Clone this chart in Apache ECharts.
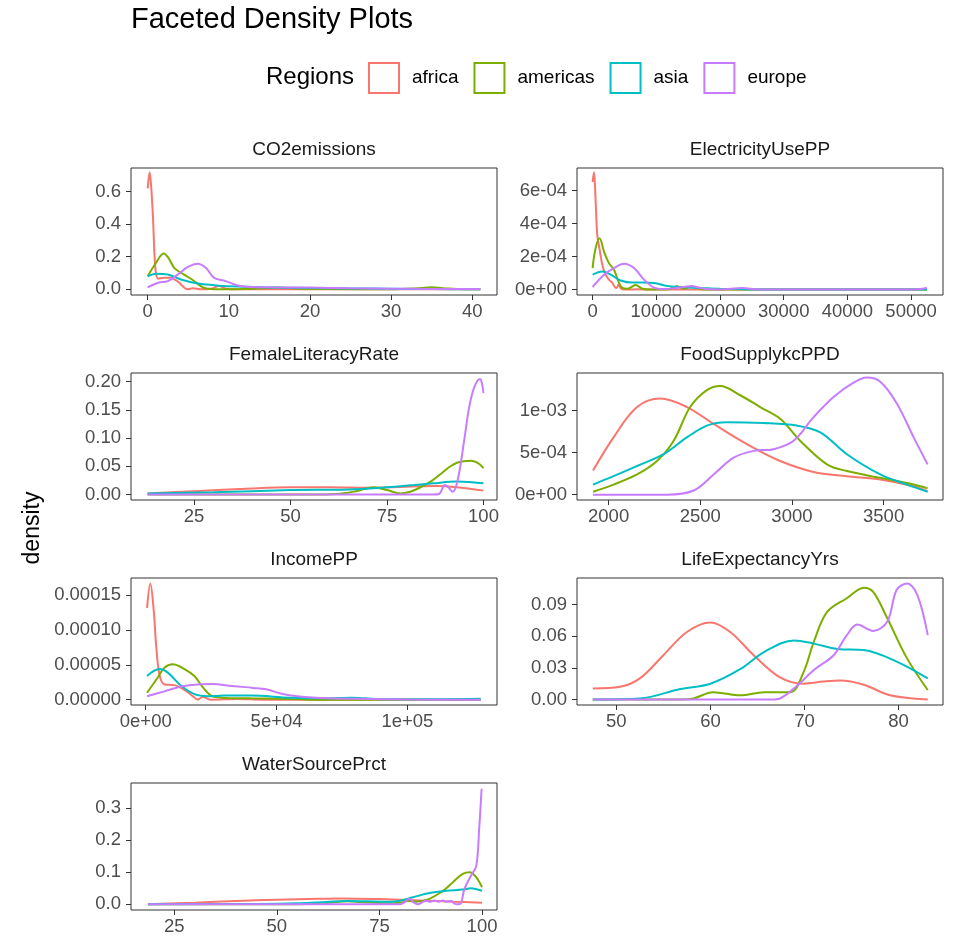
<!DOCTYPE html>
<html><head><meta charset="utf-8">
<script src="https://cdn.jsdelivr.net/npm/echarts@6/dist/echarts.min.js"></script>
<style>html,body{margin:0;padding:0;background:#fff}#c{width:956px;height:939px}</style>
</head><body><div id="c"></div>
<script>
// ---------------- data ----------------
const regions = ['africa', 'americas', 'asia', 'europe'];
const panelNames = ['CO2emissions', 'ElectricityUsePP', 'FemaleLiteracyRate', 'FoodSupplykcPPD', 'IncomePP', 'LifeExpectancyYrs', 'WaterSourcePrct'];

const co2Africa = [[0,0.62],[0.25,0.72],[0.45,0.62],[0.66,0.44],[0.95,0.13],[1.3,0.065],[2.1,0.07],[2.8,0.07],[3.3,0.06],[3.9,0.04],[4.4,0.015],[4.9,0.0],[5.6,0.006],[6.5,0.0],[7.8,0.003],[8.8,0.02],[9.7,0.003],[11,0.0],[20,0.0],[30,0.0],[41,0.0]];
const co2Americas = [[0,0.08],[1.0,0.16],[1.97,0.22],[2.6,0.19],[3.3,0.13],[4.5,0.09],[5.6,0.055],[6.8,0.012],[7.8,0.002],[10,0.0],[13,0.003],[16,0.01],[18,0.004],[22,0.001],[30,0.0],[33,0.005],[35,0.012],[37,0.004],[39,0.0],[41,0.0]];
const co2Asia = [[0,0.08],[1.07,0.095],[2.5,0.09],[4.1,0.06],[6.2,0.035],[8.2,0.025],[10.2,0.018],[14,0.012],[20,0.008],[25,0.005],[30,0.003],[35,0.001],[41,0.0]];
const co2Europe = [[0,0.012],[1.3,0.04],[2.5,0.05],[3.7,0.09],[4.96,0.137],[6.2,0.157],[7.2,0.13],[8.2,0.07],[9.6,0.05],[11,0.025],[12.2,0.015],[15,0.012],[20,0.01],[25,0.006],[30,0.003],[35,0.002],[41,0.001]];

const elecAfrica = [[0,6.5e-4],[220,7.1e-4],[470,5.4e-4],[740,3.3e-4],[1160,2.3e-4],[1520,1.5e-4],[2040,0.9e-4],[2560,0.6e-4],[3090,0.4e-4],[3500,0.15e-4],[3770,0.1e-4],[4100,0.3e-4],[4500,0.05e-4],[5500,0],[7000,0.02e-4],[10000,0],[52500,0]];
const elecAmericas = [[0,1.3e-4],[470,2.5e-4],[1100,3.1e-4],[1790,2.3e-4],[2570,1.6e-4],[3360,1.2e-4],[4140,0.4e-4],[4670,0.1e-4],[5500,0.05e-4],[6750,0.27e-4],[7800,0.05e-4],[9000,0],[12000,0.02e-4],[13200,0.2e-4],[14300,0.05e-4],[15600,0.2e-4],[17000,0.02e-4],[20000,0],[52500,0]];
const elecAsia = [[0,0.9e-4],[1520,1.1e-4],[2830,0.9e-4],[4400,0.55e-4],[6230,0.42e-4],[8000,0.42e-4],[9630,0.4e-4],[11700,0.22e-4],[14000,0.15e-4],[17000,0.1e-4],[20000,0.05e-4],[25000,0.01e-4],[30000,0],[52500,0]];
const elecEurope = [[0,0.15e-4],[1790,0.9e-4],[3360,1.3e-4],[4930,1.56e-4],[6500,1.3e-4],[8070,0.6e-4],[9630,0.12e-4],[11200,0.03e-4],[13000,0.08e-4],[15500,0.2e-4],[17500,0.05e-4],[20000,0.01e-4],[23500,0.1e-4],[26000,0],[50000,0],[52500,0.1e-4]];

const litAfrica = [[13,0.002],[25,0.006],[40,0.011],[50,0.013],[60,0.013],[70,0.012],[80,0.014],[88,0.015],[93,0.013],[100,0.007]];
const litAmericas = [[13,0],[55,0],[62,0.001],[67,0.006],[71.6,0.013],[75,0.008],[78.5,0.002],[81,0.005],[83.7,0.013],[86.5,0.024],[89,0.037],[91,0.048],[93.3,0.057],[96.7,0.06],[98.5,0.056],[100,0.047]];
const litAsia = [[13,0.002],[30,0.004],[50,0.008],[65,0.009],[75,0.013],[82,0.017],[87,0.02],[93,0.023],[97,0.022],[100,0.02]];
const litEurope = [[13,0],[87,0],[88.5,0.001],[90,0.017],[91,0.012],[92,0.005],[93.3,0.025],[95,0.096],[96.3,0.155],[97.6,0.19],[99.1,0.205],[99.6,0.197],[100,0.18]];

const foodAfrica = [[1915,0.286e-3],[2027,0.68e-3],[2155,1.04e-3],[2282,1.14e-3],[2427,1.04e-3],[2573,0.84e-3],[2755,0.6e-3],[2936,0.4e-3],[3118,0.27e-3],[3300,0.22e-3],[3482,0.18e-3],[3664,0.1e-3],[3740,0.04e-3]];
const foodAmericas = [[1915,0.035e-3],[2027,0.12e-3],[2155,0.24e-3],[2264,0.4e-3],[2355,0.64e-3],[2445,1.04e-3],[2536,1.24e-3],[2609,1.29e-3],[2718,1.18e-3],[2827,1.04e-3],[2936,0.9e-3],[3045,0.64e-3],[3191,0.36e-3],[3300,0.28e-3],[3482,0.2e-3],[3664,0.12e-3],[3740,0.075e-3]];
const foodAsia = [[1915,0.12e-3],[2027,0.22e-3],[2155,0.34e-3],[2300,0.48e-3],[2427,0.68e-3],[2536,0.82e-3],[2645,0.86e-3],[2845,0.85e-3],[3027,0.82e-3],[3155,0.74e-3],[3300,0.48e-3],[3482,0.24e-3],[3627,0.12e-3],[3740,0.035e-3]];
const foodEurope = [[1915,0],[2318,0],[2464,0.05e-3],[2573,0.24e-3],[2682,0.44e-3],[2791,0.52e-3],[2900,0.54e-3],[3009,0.64e-3],[3118,0.92e-3],[3227,1.16e-3],[3336,1.33e-3],[3409,1.39e-3],[3482,1.34e-3],[3573,1.08e-3],[3664,0.68e-3],[3740,0.36e-3]];

const incAfrica = [[500,1.32e-4],[1760,1.67e-4],[3060,1.28e-4],[3950,0.8e-4],[5220,0.365e-4],[7130,0.22e-4],[10960,0.21e-4],[14800,0.14e-4],[18000,0.05e-4],[19900,0],[21800,0.04e-4],[25000,0],[35000,0.01e-4],[45000,0],[128000,0]];
const incAmericas = [[500,0.1e-4],[4600,0.32e-4],[7130,0.46e-4],[10340,0.51e-4],[14800,0.44e-4],[18600,0.34e-4],[21800,0.18e-4],[25000,0.06e-4],[28800,0.03e-4],[40000,0.02e-4],[50000,0.015e-4],[60000,0.005e-4],[70000,0],[128000,0]];
const incAsia = [[500,0.34e-4],[5220,0.44e-4],[8420,0.39e-4],[13520,0.2e-4],[18600,0.08e-4],[23700,0.05e-4],[30000,0.06e-4],[40000,0.06e-4],[55000,0.03e-4],[70000,0.02e-4],[79000,0.03e-4],[88000,0.01e-4],[100000,0.005e-4],[128000,0.015e-4]];
const incEurope = [[500,0.05e-4],[7130,0.12e-4],[13520,0.19e-4],[19900,0.22e-4],[26000,0.225e-4],[32000,0.2e-4],[41200,0.17e-4],[46000,0.15e-4],[51500,0.09e-4],[58000,0.05e-4],[70000,0.02e-4],[85000,0.01e-4],[100000,0.002e-4],[128000,0]];

const lifeAfrica = [[47.5,0.0104],[50.4,0.012],[52.5,0.02],[55,0.042],[57.5,0.064],[60,0.073],[62.1,0.064],[64.6,0.042],[67.4,0.021],[69.9,0.015],[72,0.017],[73.8,0.018],[76.3,0.014],[79.1,0.004],[83.1,0.0]];
const lifeAmericas = [[47.5,0],[57,0],[58.2,0.001],[60.3,0.007],[63.2,0.004],[65.7,0.007],[68.5,0.007],[69.9,0.026],[71,0.055],[72.4,0.083],[74.5,0.096],[76.3,0.106],[77.3,0.102],[78.8,0.077],[80.9,0.039],[83.1,0.009]];
const lifeAsia = [[47.5,0],[52.5,0.001],[56.8,0.01],[60,0.015],[63.2,0.029],[65.7,0.045],[68.9,0.056],[71,0.053],[73.5,0.048],[76.3,0.047],[79.8,0.036],[83.1,0.02]];
const lifeEurope = [[47.5,0],[66.5,0],[67.4,0.001],[69.2,0.013],[71,0.028],[73.1,0.042],[74.5,0.061],[75.6,0.071],[77.3,0.065],[78.8,0.074],[79.8,0.104],[80.9,0.11],[82,0.099],[83.1,0.061]];

const watAfrica = [[18.6,0],[30,0.005],[40,0.01],[50,0.014],[60,0.017],[66,0.018],[75,0.016],[85,0.012],[93,0.008],[100,0.005]];
const watAmericas = [[18.6,0],[55,0],[62,0.004],[67,0.009],[72,0.006],[77,0.003],[80,0.005],[82,0.01],[84,0.008],[87.2,0.017],[90.5,0.042],[92.9,0.069],[95.3,0.095],[97,0.1],[98.6,0.084],[100,0.053]];
const watAsia = [[18.6,0],[45,0.001],[55,0.003],[62,0.007],[67,0.01],[72,0.009],[78,0.008],[80,0.011],[83.2,0.022],[87.2,0.035],[91.3,0.042],[95.3,0.046],[97.3,0.05],[100,0.042]];
const watEurope = [[18.6,0],[80,0],[81.3,0.008],[82.3,0.017],[83.3,0.006],[84.4,0],[85.4,0.006],[86.4,0.011],[87.4,0.008],[88.4,0.012],[89.4,0.008],[90.4,0.012],[91.4,0.008],[92.4,0.011],[93.2,0.003],[94,0],[94.8,0.002],[95.7,0.047],[97.3,0.089],[98.6,0.12],[99.3,0.234],[99.9,0.361]];

// tick values and labels
const co2XTicks = [0,10,20,30,40], co2XLabels = ['0','10','20','30','40'];
const co2YTicks = [0,0.2,0.4,0.6], co2YLabels = ['0.0','0.2','0.4','0.6'];
const elecXTicks = [0,10000,20000,30000,40000,50000], elecXLabels = ['0','10000','20000','30000','40000','50000'];
const elecYTicks = [0,2e-4,4e-4,6e-4], elecYLabels = ['0e+00','2e-04','4e-04','6e-04'];
const litXTicks = [25,50,75,100], litXLabels = ['25','50','75','100'];
const litYTicks = [0,0.05,0.1,0.15,0.2], litYLabels = ['0.00','0.05','0.10','0.15','0.20'];
const foodXTicks = [2000,2500,3000,3500], foodXLabels = ['2000','2500','3000','3500'];
const foodYTicks = [0,5e-4,1e-3], foodYLabels = ['0e+00','5e-04','1e-03'];
const incXTicks = [0,50000,100000], incXLabels = ['0e+00','5e+04','1e+05'];
const incYTicks = [0,5e-5,1e-4,1.5e-4], incYLabels = ['0.00000','0.00005','0.00010','0.00015'];
const lifeXTicks = [50,60,70,80], lifeXLabels = ['50','60','70','80'];
const lifeYTicks = [0,0.03,0.06,0.09], lifeYLabels = ['0.00','0.03','0.06','0.09'];
const watXTicks = [25,50,75,100], watXLabels = ['25','50','75','100'];
const watYTicks = [0,0.1,0.2,0.3], watYLabels = ['0.0','0.1','0.2','0.3'];

// ---------------- assembly ----------------
const seriesByPanel = [
  [co2Africa, co2Americas, co2Asia, co2Europe],
  [elecAfrica, elecAmericas, elecAsia, elecEurope],
  [litAfrica, litAmericas, litAsia, litEurope],
  [foodAfrica, foodAmericas, foodAsia, foodEurope],
  [incAfrica, incAmericas, incAsia, incEurope],
  [lifeAfrica, lifeAmericas, lifeAsia, lifeEurope],
  [watAfrica, watAmericas, watAsia, watEurope]
];
const ticksByPanel = [
  [co2XTicks, co2XLabels, co2YTicks, co2YLabels],
  [elecXTicks, elecXLabels, elecYTicks, elecYLabels],
  [litXTicks, litXLabels, litYTicks, litYLabels],
  [foodXTicks, foodXLabels, foodYTicks, foodYLabels],
  [incXTicks, incXLabels, incYTicks, incYLabels],
  [lifeXTicks, lifeXLabels, lifeYTicks, lifeYLabels],
  [watXTicks, watXLabels, watYTicks, watYLabels]
];
// axis extents (ggplot 5% expansion)
const xRanges = [[-2.05,43.05],[-2449,55010],[8.7,103.5],[1827.6,3824],[-5632,134240],[45.82,84.72],[14.47,103.65]];
const yRanges = [[-0.0355,0.7455],[-3.3e-5,7.36e-4],[-0.0096,0.2155],[-6.3e-5,1.444e-3],[-7.6e-6,1.75e-4],[-0.0052,0.1152],[-0.018,0.379]];

const colors = ['#F8766D', '#7CAE00', '#00BFC4', '#C77CFF'];
const FONT = 'Liberation Sans, Arial, Helvetica, sans-serif';
const colLeft = [131, 577], panelW = 366, panelH = 127;
const rowTop = [168, 373, 578, 783];

const grids = [], xAxes = [], yAxes = [], series = [], graphics = [];
function fmt(ticks, labels) {
  return function (v) {
    for (let i = 0; i < ticks.length; i++) {
      if (Math.abs(ticks[i] - v) <= 1e-9 * Math.max(1e-6, Math.abs(ticks[i]) + 1e-6)) return labels[i];
    }
    return '';
  };
}
panelNames.forEach((name, p) => {
  const col = p % 2, row = Math.floor(p / 2);
  const left = colLeft[col], top = rowTop[row];
  grids.push({ left: left, top: top, width: panelW, height: panelH, show: true,
    borderColor: '#333333', borderWidth: 1, backgroundColor: '#fff', containLabel: false });
  const [xt, xl, yt, yl] = ticksByPanel[p];
  xAxes.push({ type: 'value', gridIndex: p, min: xRanges[p][0], max: xRanges[p][1], position: 'bottom',
    axisLine: { show: false, onZero: false }, splitLine: { show: false },
    axisTick: { show: true, length: 5, lineStyle: { color: '#333333', width: 1 }, customValues: xt },
    axisLabel: { customValues: xt, formatter: fmt(xt, xl), color: '#4D4D4D', fontSize: 18.5, fontFamily: FONT, margin: 7 } });
  yAxes.push({ type: 'value', gridIndex: p, min: yRanges[p][0], max: yRanges[p][1], position: 'left',
    axisLine: { show: false, onZero: false }, splitLine: { show: false },
    axisTick: { show: true, length: 5, lineStyle: { color: '#333333', width: 1 }, customValues: yt },
    axisLabel: { customValues: yt, formatter: fmt(yt, yl), color: '#4D4D4D', fontSize: 18.5, fontFamily: FONT, margin: 10 } });
  seriesByPanel[p].forEach((d, r) => {
    series.push({ type: 'line', name: regions[r], xAxisIndex: p, yAxisIndex: p, data: d,
      showSymbol: false, symbol: 'none', smooth: 0.35, color: colors[r],
      lineStyle: { color: colors[r], width: 2 }, animation: false, silent: true, z: 2 + r });
  });
  graphics.push({ type: 'text', x: left + panelW / 2, y: top - 18,
    style: { text: name, fontSize: 19, fontFamily: FONT, fill: '#1A1A1A', align: 'center', verticalAlign: 'middle' } });
});

graphics.push({ type: 'text', x: 131, y: 20, style: { text: 'Faceted Density Plots', fontSize: 29, fontFamily: FONT, fill: '#000', align: 'left', verticalAlign: 'middle' } });
graphics.push({ type: 'text', x: 266, y: 77, style: { text: 'Regions', fontSize: 24, fontFamily: FONT, fill: '#000', align: 'left', verticalAlign: 'middle' } });
graphics.push({ type: 'text', x: 33, y: 528, rotation: Math.PI / 2, style: { text: 'density', fontSize: 23, fontFamily: FONT, fill: '#000', align: 'center', verticalAlign: 'middle' } });

const chart = echarts.init(document.getElementById('c'), null, { renderer: 'canvas' });
chart.setOption({
  backgroundColor: '#fff',
  animation: false,
  grid: grids, xAxis: xAxes, yAxis: yAxes, series: series,
  legend: {
    left: 368, top: 62, orient: 'horizontal', selectedMode: false, padding: 0,
    itemWidth: 30, itemHeight: 30, itemGap: 15, icon: 'rect',
    data: regions.map((r, i) => ({ name: r, itemStyle: { color: '#fff', borderColor: colors[i], borderWidth: 2 } })),
    textStyle: { fontSize: 19, fontFamily: FONT, color: '#000', padding: [0, 0, 0, 8] }
  },
  graphic: graphics
});
</script></body></html>
